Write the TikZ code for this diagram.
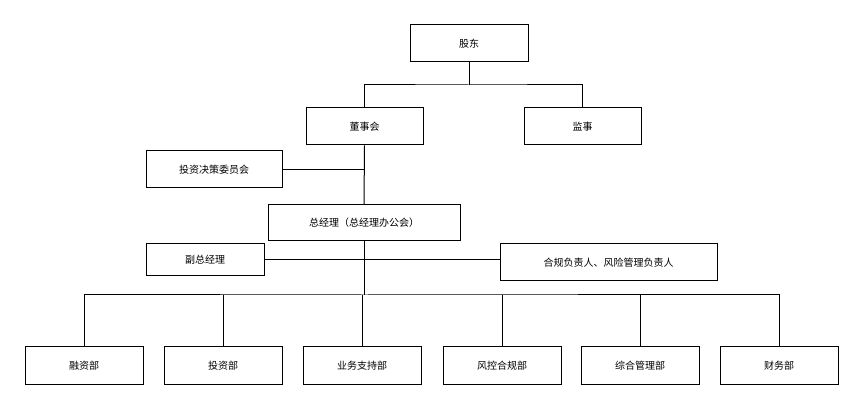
\documentclass[tikz,border=0pt]{standalone}
\usepackage{fontspec}
\setmainfont{Noto Sans CJK SC}
\begin{document}
\begin{tikzpicture}[x=1pt,y=-1pt,
  box/.style={draw,line width=1pt,minimum height=37pt,inner sep=2pt,font=\fontsize{10}{12}\selectfont},
  ln/.style={line width=1pt}]
\useasboundingbox (0,0) rectangle (865,411);
\node[box,minimum width=118pt] (gd) at (469,43.5) {股东};
\node[box,minimum width=117pt] (dsh) at (364.5,126.5) {董事会};
\node[box,minimum width=117pt] (js) at (582.5,126.5) {监事};
\node[box,minimum width=136pt] (tz) at (214,169.5) {投资决策委员会};
\node[box,minimum width=192pt,minimum height=36pt] (zjl) at (364,223) {总经理（总经理办公会）};
\node[box,minimum width=118pt,minimum height=32pt] (fz) at (205,260) {副总经理};
\node[box,minimum width=217pt] (hg) at (608.5,262.5) {合规负责人、风险管理负责人};
\foreach \n/\t/\x in {b1/融资部/84,b2/投资部/223,b3/业务支持部/362,b4/风控合规部/502,b5/综合管理部/640,b6/财务部/779}
  \node[box,minimum width=118pt,minimum height=38pt] (\n) at (\x,366) {\t};
\coordinate (j1) at (469,85);
\coordinate (m) at (364,261);
\coordinate (j2) at (364,295);
\draw[ln] (gd.south) -- (j1);
\draw[ln] (dsh.north) |- (j1) -| (js.north);
\draw[ln] (dsh.south) -- (zjl.north);
\draw[ln] (tz.east) -- (tz.east -| dsh.south);
\draw[ln] (zjl.south) -- (j2);
\draw[ln] (fz.east) -- (fz.east -| hg.west);
\draw[ln] (b1.north) |- (j2) -| (b6.north);
\foreach \n in {b2,b3,b4,b5} \draw[ln] (\n.north) -- (\n.north |- j2);
\end{tikzpicture}
\end{document}
